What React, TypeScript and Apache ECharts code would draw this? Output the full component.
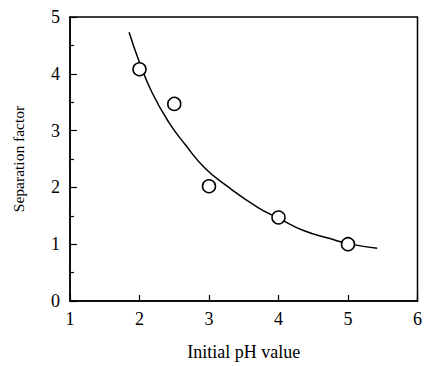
import React, { useEffect, useRef } from "react";
import * as echarts from "echarts";

const pointX = [2, 2.5, 3, 4, 5];
const pointY = [4.08, 3.47, 2.02, 1.47, 1.0];

const curveX = [1.85, 2.0, 2.18, 2.42, 2.66, 2.94, 3.25, 3.7, 4.0, 4.36, 4.74, 5.0, 5.42];
const curveY = [4.73, 4.2, 3.67, 3.15, 2.75, 2.34, 2.03, 1.65, 1.46, 1.24, 1.1, 1.01, 0.93];

const xTicks = [1, 2, 3, 4, 5, 6];
const yTicks = [0, 1, 2, 3, 4, 5];

const FONT = "Liberation Serif";

export default function App() {
  const ref = useRef<HTMLDivElement>(null);
  useEffect(() => {
    if (!ref.current) return;
    const chart = echarts.init(ref.current, null, { renderer: "svg" });
    chart.setOption({
      animation: false,
      backgroundColor: "#fff",
      grid: {
        left: 70,
        top: 17,
        right: 4,
        bottom: 61,
        show: true,
        borderColor: "#000",
        borderWidth: 1.5,
      },
      xAxis: {
        type: "value",
        min: xTicks[0],
        max: xTicks[xTicks.length - 1],
        interval: 1,
        name: "Initial pH value",
        nameLocation: "middle",
        nameGap: 42,
        nameTextStyle: { fontFamily: FONT, fontSize: 18, color: "#000" },
        axisLine: { show: true, lineStyle: { color: "#000", width: 1.5 } },
        axisTick: { show: true, inside: true, length: 6, lineStyle: { color: "#000", width: 1.2 } },
        axisLabel: { fontFamily: FONT, fontSize: 18, color: "#000", margin: 9 },
        splitLine: { show: false },
      },
      yAxis: {
        type: "value",
        min: yTicks[0],
        max: yTicks[yTicks.length - 1],
        interval: 1,
        name: "Separation factor",
        nameLocation: "middle",
        nameGap: 44,
        nameTextStyle: { fontFamily: FONT, fontSize: 15.5, color: "#000" },
        axisLine: { show: true, lineStyle: { color: "#000", width: 1.5 } },
        axisTick: { show: true, inside: true, length: 7, lineStyle: { color: "#000", width: 1.2 } },
        minorTick: { show: true, splitNumber: 2, length: 4, lineStyle: { color: "#000", width: 1.2 } },
        axisLabel: { fontFamily: FONT, fontSize: 18, color: "#000", margin: 10 },
        splitLine: { show: false },
      },
      series: [
        {
          type: "line",
          data: curveX.map((x, i) => [x, curveY[i]]),
          smooth: true,
          showSymbol: false,
          symbol: "none",
          lineStyle: { color: "#000", width: 1.5 },
          z: 2,
        },
        {
          type: "scatter",
          data: pointX.map((x, i) => [x, pointY[i]]),
          symbol: "circle",
          symbolSize: 13,
          itemStyle: { color: "#fff", borderColor: "#000", borderWidth: 1.5, opacity: 1 },
          z: 3,
        },
      ],
    });
    return () => chart.dispose();
  }, []);
  return (
    <div
      ref={ref}
      style={{ position: "fixed", left: 0, top: 0, width: 425, height: 366 }}
    />
  );
}
